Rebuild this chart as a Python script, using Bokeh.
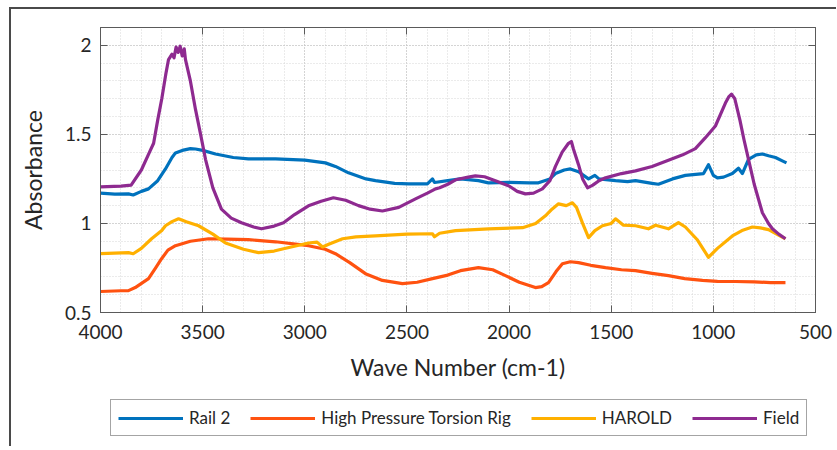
from bokeh.plotting import figure
from bokeh.layouts import column
from bokeh.models import (Range1d, LinearAxis, SingleIntervalTicker, Legend, LegendItem,
                          CustomJSTickFormatter)
from bokeh.embed import file_html
from bokeh.resources import INLINE

# ---------------- data ----------------
field_wn = [4000, 3900, 3850, 3800, 3760, 3740, 3720, 3700, 3680, 3667, 3650, 3640, 3630, 3620,
            3610, 3600, 3590, 3584, 3560, 3535, 3510, 3486, 3450, 3408, 3360, 3310, 3250, 3212,
            3150, 3104, 3050, 2982, 2920, 2860, 2800, 2737, 2680, 2620, 2540, 2458, 2400, 2360,
            2340, 2300, 2262, 2200, 2165, 2120, 2067, 2000, 1960, 1920, 1880, 1837, 1800, 1773,
            1740, 1709, 1695, 1685, 1660, 1640, 1616, 1590, 1560, 1528, 1450, 1381, 1300, 1220,
            1150, 1088, 1040, 990, 941, 925, 911, 895, 870, 850, 828, 800, 760, 730, 711, 680, 647]
field_abs = [1.205, 1.21, 1.215, 1.30, 1.40, 1.45, 1.58, 1.70, 1.84, 1.92, 1.95, 1.93, 1.99, 1.96,
             1.995, 1.94, 1.98, 1.92, 1.80, 1.64, 1.50, 1.36, 1.20, 1.08, 1.03, 1.004, 0.98, 0.97,
             0.985, 1.004, 1.05, 1.099, 1.125, 1.144, 1.13, 1.10, 1.08, 1.07, 1.09, 1.138, 1.17, 1.194,
             1.20, 1.22, 1.245, 1.26, 1.267, 1.262, 1.24, 1.21, 1.18, 1.166, 1.17, 1.194, 1.24, 1.32,
             1.40, 1.45, 1.46, 1.418, 1.33, 1.25, 1.20, 1.215, 1.24, 1.256, 1.28, 1.295, 1.32, 1.355,
             1.385, 1.42, 1.48, 1.547, 1.676, 1.71, 1.726, 1.70, 1.58, 1.47, 1.36, 1.22, 1.06, 1.00,
             0.97, 0.94, 0.914]

rail_wn = [4000, 3930, 3863, 3840, 3800, 3765, 3720, 3682, 3650, 3633, 3600, 3560, 3535, 3500,
           3437, 3350, 3276, 3143, 3000, 2899, 2850, 2786, 2700, 2654, 2560, 2492, 2400, 2375,
           2365, 2300, 2238, 2150, 2101, 2000, 1900, 1856, 1800, 1773, 1730, 1700, 1660, 1611,
           1580, 1560, 1479, 1420, 1381, 1300, 1269, 1200, 1137, 1048, 1024, 1000, 980, 950, 907,
           877, 858, 828, 790, 760, 730, 696, 660, 642]
rail_abs = [1.17, 1.165, 1.166, 1.16, 1.18, 1.194, 1.24, 1.306, 1.37, 1.396, 1.41, 1.42, 1.418, 1.41,
            1.39, 1.37, 1.362, 1.362, 1.355, 1.34, 1.32, 1.284, 1.25, 1.24, 1.225, 1.222, 1.222, 1.25,
            1.23, 1.24, 1.25, 1.24, 1.228, 1.23, 1.228, 1.228, 1.25, 1.28, 1.30, 1.306, 1.29, 1.25,
            1.27, 1.25, 1.24, 1.235, 1.24, 1.225, 1.22, 1.25, 1.27, 1.28, 1.33, 1.27, 1.256, 1.26, 1.28,
            1.31, 1.28, 1.36, 1.385, 1.39, 1.38, 1.37, 1.35, 1.34]

harold_wn = [4000, 3863, 3840, 3800, 3750, 3700, 3682, 3650, 3618, 3580, 3520, 3450, 3388, 3300,
             3227, 3150, 3104, 3040, 2982, 2940, 2913, 2880, 2815, 2750, 2654, 2500, 2375, 2365,
             2340, 2262, 2100, 1934, 1870, 1822, 1790, 1758, 1720, 1690, 1670, 1640, 1611, 1580,
             1543, 1500, 1479, 1440, 1381, 1318, 1283, 1220, 1171, 1137, 1080, 1024, 980, 907, 860,
             809, 770, 730, 690, 647]
harold_abs = [0.83, 0.836, 0.83, 0.86, 0.914, 0.96, 0.987, 1.01, 1.026, 1.01, 0.987, 0.94, 0.89, 0.855,
              0.836, 0.845, 0.858, 0.875, 0.89, 0.895, 0.868, 0.885, 0.914, 0.925, 0.93, 0.94, 0.942, 0.925,
              0.945, 0.96, 0.97, 0.976, 1.0, 1.043, 1.08, 1.11, 1.10, 1.116, 1.09, 1.0, 0.92, 0.96,
              0.987, 1.0, 1.026, 0.99, 0.987, 0.97, 0.99, 0.97, 1.004, 0.98, 0.91, 0.81, 0.86, 0.93, 0.96,
              0.98, 0.975, 0.965, 0.94, 0.914]

hptr_wn = [4000, 3900, 3863, 3830, 3765, 3730, 3701, 3670, 3633, 3560, 3471, 3380, 3276, 3143,
           2982, 2900, 2850, 2780, 2703, 2620, 2522, 2450, 2375, 2300, 2238, 2150, 2080, 2018,
           1950, 1871, 1840, 1807, 1770, 1739, 1700, 1660, 1600, 1528, 1450, 1381, 1300, 1220,
           1140, 1053, 980, 892, 800, 720, 647]
hptr_abs = [0.618, 0.622, 0.623, 0.64, 0.69, 0.75, 0.802, 0.85, 0.875, 0.90, 0.914, 0.912, 0.909, 0.897,
            0.875, 0.855, 0.83, 0.78, 0.718, 0.68, 0.662, 0.67, 0.69, 0.71, 0.735, 0.752, 0.74, 0.707,
            0.67, 0.64, 0.645, 0.668, 0.73, 0.774, 0.785, 0.78, 0.765, 0.752, 0.74, 0.735, 0.72, 0.707,
            0.69, 0.68, 0.675, 0.674, 0.672, 0.668, 0.668]

series_names = ["Rail 2", "High Pressure Torsion Rig", "HAROLD", "Field"]
series_colors = ["#0072BD", "#FF5210", "#FFB000", "#8E2A90"]

x_label = "Wave Number (cm-1)"
y_label = "Absorbance"

# ---------------- figure ----------------
FONT = "Lato"
AX = "#5a5a5a"
W = 825

p = figure(width=W, height=379, output_backend="svg", toolbar_location=None,
           x_range=Range1d(4000, 500), y_range=Range1d(0.5, 2.1),
           min_border_left=89, min_border_right=W - 804, min_border_top=18, min_border_bottom=76,
           x_axis_label=x_label, y_axis_label=y_label)
p.outline_line_color = AX
p.background_fill_color = "white"
p.border_fill_color = "white"

xt = SingleIntervalTicker(interval=500, num_minor_ticks=5)
yt = SingleIntervalTicker(interval=0.5, num_minor_ticks=5)
fmt = CustomJSTickFormatter(code="return String(Math.round(tick*10)/10);")
blank = CustomJSTickFormatter(code="return '';")

for ax in p.xaxis:
    ax.ticker = xt
for ax in p.yaxis:
    ax.ticker = yt
    ax.formatter = fmt

for ax in list(p.xaxis) + list(p.yaxis):
    ax.axis_line_color = AX
    ax.major_tick_line_color = AX
    ax.major_tick_in = 7
    ax.major_tick_out = 0
    ax.minor_tick_in = 0
    ax.minor_tick_out = 0
    ax.major_label_text_font = FONT
    ax.major_label_text_font_size = "19px"
    ax.major_label_text_color = "#262626"
    ax.axis_label_text_font = FONT
    ax.axis_label_text_font_size = "23px"
    ax.axis_label_text_font_style = "normal"
    ax.axis_label_text_color = "#262626"

p.xaxis.major_label_standoff = 12
p.xaxis.axis_label_standoff = 11
p.yaxis.major_label_standoff = 9
p.yaxis.axis_label_standoff = 15

# box axes (top and right) with inward ticks, no labels
top = LinearAxis(ticker=xt, formatter=blank, major_label_standoff=0,
                 axis_line_color=AX, major_tick_line_color=AX, major_tick_in=7, major_tick_out=0,
                 minor_tick_in=0, minor_tick_out=0)
right = LinearAxis(ticker=yt, formatter=blank, major_label_standoff=0,
                   axis_line_color=AX, major_tick_line_color=AX, major_tick_in=7, major_tick_out=0,
                   minor_tick_in=0, minor_tick_out=0)
p.add_layout(top, "above")
p.add_layout(right, "right")

for g in (p.xgrid[0], p.ygrid[0]):
    g.grid_line_color = "#bdbdbd"
    g.grid_line_dash = "1 2"
    g.grid_line_width = 1
    g.minor_grid_line_color = "#d6d6d6"
    g.minor_grid_line_dash = "1 2"
    g.minor_grid_line_width = 1
p.xgrid[0].ticker = xt
p.ygrid[0].ticker = yt

series = [(rail_wn, rail_abs), (hptr_wn, hptr_abs), (harold_wn, harold_abs), (field_wn, field_abs)]
for (xs, ys), col in zip(series, series_colors):
    p.line(xs, ys, line_color=col, line_width=3.2, line_join="round")

# ---------------- legend strip (its frame is aligned with the plot frame) ----------------
LH = 58
q = figure(width=W, height=LH, output_backend="svg", toolbar_location=None,
           x_axis_type=None, y_axis_type=None, x_range=Range1d(0, 1), y_range=Range1d(0, 1),
           min_border_left=89, min_border_right=W - 804, min_border_top=0, min_border_bottom=0)
q.outline_line_color = None
q.background_fill_color = "white"
q.border_fill_color = "white"
q.xgrid.visible = False
q.ygrid.visible = False
items = []
for (xs, ys), name, col in zip(series, series_names, series_colors):
    # same series, but lying outside this strip's ranges: only the legend glyph shows
    r = q.line(xs, ys, line_color=col, line_width=3.2)
    items.append(LegendItem(label=name, renderers=[r]))

legend = Legend(items=items, orientation="horizontal", location=(10, 10),
                label_text_font=FONT, label_text_font_size="17px", label_text_color="#262626",
                glyph_width=65, glyph_height=20, label_standoff=6, spacing=20,
                padding=7, margin=0, border_line_color="#4a4a4a", border_line_width=1,
                background_fill_color="white")
q.add_layout(legend, "center")

layout = column(p, q, spacing=0,
                styles={"margin-left": "9px", "margin-top": "7px",
                        "border-left": "2px solid #4a4a4a", "border-top": "2px solid #4a4a4a"})

open("out.html", "w").write(file_html(layout, INLINE))
